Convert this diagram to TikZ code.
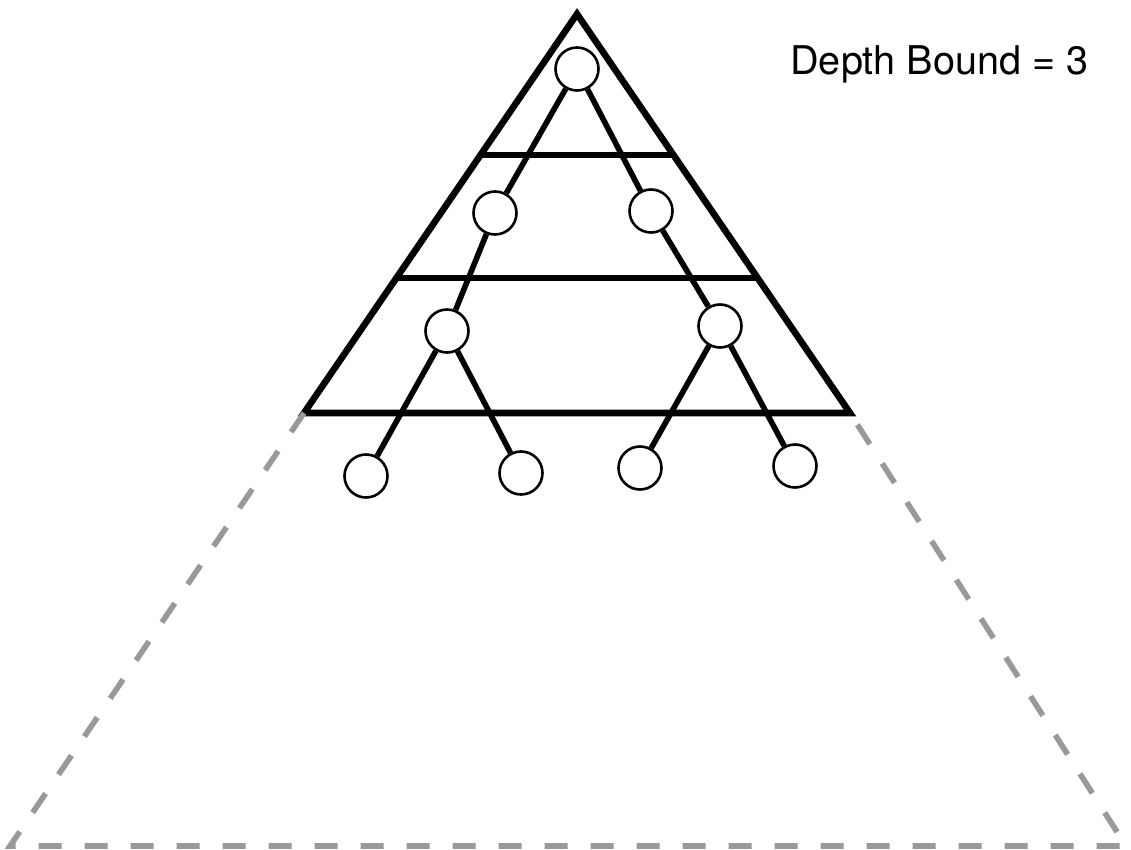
\documentclass[tikz,border=0pt]{standalone}
\usepackage{fontspec}
\setmainfont{TeX Gyre Heros}
\usetikzlibrary{calc}
\definecolor{dashgray}{HTML}{999999}
\begin{document}
\begin{tikzpicture}[x=0.5pt,y=-0.5pt,
  tnode/.style={circle,draw=black,fill=white,line width=1.3pt,minimum size=21.5pt,inner sep=0pt},
  tedge/.style={line width=2.8pt},
  frame/.style={line width=3.3pt,line join=miter},
  level/.style={line width=3.3pt},
  bounddash/.style={draw=dashgray,line width=2.8pt,dash pattern=on 11.5pt off 11.5pt}]
\useasboundingbox (0,0) rectangle (1131,850);
% solid triangle
\coordinate (apex) at (577,14);
\coordinate (bl) at (304,413);
\coordinate (br) at (850,413);
\draw[frame] (bl) -- (apex) -- (br) -- cycle;
% level lines
\coordinate (l1l) at ($(apex)!0.3534!(bl)$);
\coordinate (l1r) at ($(apex)!0.3534!(br)$);
\coordinate (l2l) at ($(apex)!0.6617!(bl)$);
\coordinate (l2r) at ($(apex)!0.6617!(br)$);
\draw[level] (l1l) -- (l1r);
\draw[level] (l2l) -- (l2r);
% dashed outer triangle
\coordinate (dbl) at (10,846);
\coordinate (dbr) at (1126,846);
\draw[bounddash] (bl) -- (dbl) -- (dbr) -- (br);
% tree nodes
\node[tnode] (r) at (577,69) {};
\node[tnode] (a) at (495,213) {};
\node[tnode] (b) at (651,211) {};
\node[tnode] (c) at (447,331) {};
\node[tnode] (d) at (720,326) {};
\node[tnode] (e) at (366,476) {};
\node[tnode] (f) at (521,473) {};
\node[tnode] (g) at (640,468) {};
\node[tnode] (h) at (795,466) {};
\draw[tedge] (r) -- (a);
\draw[tedge] (r) -- (b);
\draw[tedge] (a) -- (c);
\draw[tedge] (b) -- (d);
\draw[tedge] (c) -- (e);
\draw[tedge] (c) -- (f);
\draw[tedge] (d) -- (g);
\draw[tedge] (d) -- (h);
% label
\node[anchor=base west,inner sep=0pt,font=\fontsize{19.8pt}{24pt}\selectfont] (lbl) at (790,75) {Depth Bound = 3};
\end{tikzpicture}
\end{document}
